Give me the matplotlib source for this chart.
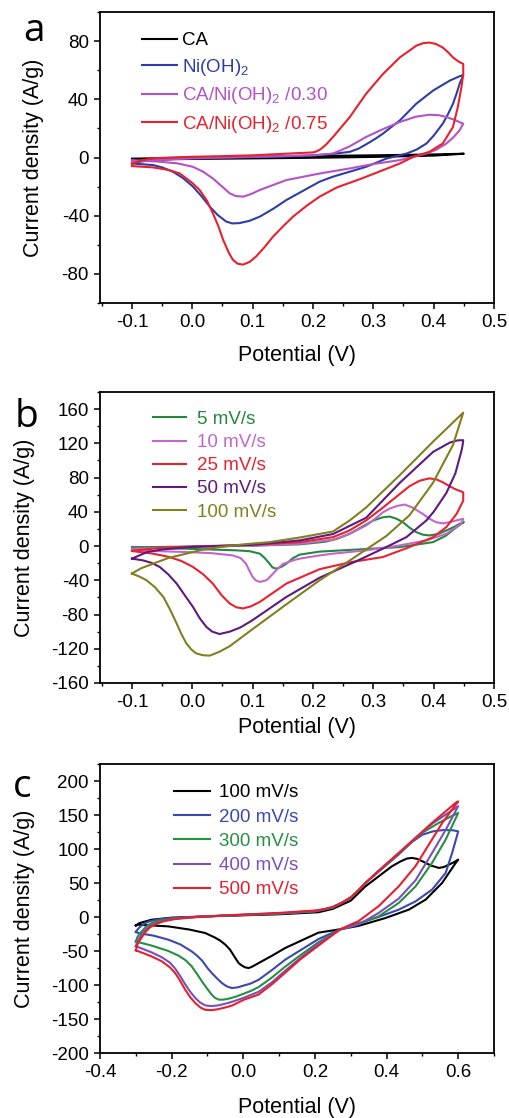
import matplotlib
matplotlib.use("Agg")
import matplotlib.pyplot as plt
from matplotlib.ticker import MultipleLocator, FormatStrFormatter

plt.rcParams["font.family"] = ["Liberation Sans", "DejaVu Sans"]
plt.rcParams["mathtext.fontset"] = "custom"
plt.rcParams["mathtext.rm"] = "Liberation Sans"
plt.rcParams["axes.unicode_minus"] = False

# --- panel a: CV of the four electrodes (one closed loop per sample) ---
a_labels = ["CA", "Ni(OH)$_\\mathregular{2}$",
            "CA/Ni(OH)$_\\mathregular{2}$ /0.30", "CA/Ni(OH)$_\\mathregular{2}$ /0.75"]
a_colors = ["#000000", "#2E3DA8", "#B552C6", "#E8212B"]

a_ca_v = [-0.10, 0.00, 0.10, 0.20, 0.30, 0.40, 0.45, 0.40, 0.30, 0.20, 0.10, 0.00, -0.10]
a_ca_j = [-0.8, 0.0, 0.5, 1.0, 1.5, 2.1, 2.6, 1.3, 0.4, -0.2, -0.6, -1.0, -1.5]

a_ni_v = [-0.100, -0.085, -0.070, -0.030, 0.050, 0.150, 0.206, 0.235, 0.261, 0.275, 0.290, 0.303,
          0.316, 0.330, 0.344, 0.371, 0.399, 0.427, 0.440, 0.449, 0.447, 0.443, 0.438, 0.432,
          0.424, 0.415, 0.400, 0.388, 0.372, 0.355, 0.322, 0.288, 0.233, 0.211, 0.156, 0.135,
          0.112, 0.095, 0.078, 0.066, 0.056, 0.042, 0.029, 0.015, 0.001, -0.015, -0.032, -0.050,
          -0.065, -0.100]
a_ni_j = [-4.0, -2.8, -2.0, -1.0, -0.2, 0.6, 1.6, 2.6, 3.9, 6.0, 9.5, 12.8,
          16.4, 21.0, 25.5, 36.9, 46.0, 52.9, 55.3, 56.8, 54.5, 50.6, 44.0, 36.9,
          30.0, 23.2, 15.0, 9.6, 5.5, 2.7, -0.7, -6.4, -13.2, -16.6, -29.2, -35.0,
          -40.6, -43.5, -45.1, -45.3, -44.0, -39.5, -33.8, -26.5, -20.0, -14.3, -9.8, -6.8,
          -5.2, -4.1]

a_p30_v = [-0.100, -0.050, 0.000, 0.100, 0.200, 0.233, 0.260, 0.288, 0.316, 0.344, 0.370, 0.393,
           0.410, 0.421, 0.435, 0.449, 0.446, 0.443, 0.433, 0.421, 0.405, 0.388, 0.344, 0.300,
           0.261, 0.211, 0.156, 0.112, 0.098, 0.085, 0.072, 0.062, 0.048, 0.034, 0.018, 0.001,
           -0.025, -0.054, -0.100]
a_p30_j = [-3.0, -1.5, -0.5, 0.5, 1.5, 2.7, 7.5, 14.1, 19.5, 24.4, 28.0, 29.4,
           29.0, 27.8, 25.8, 23.2, 21.0, 18.7, 14.0, 9.6, 5.5, 2.7, -1.8, -4.5,
           -7.5, -11.0, -15.5, -22.3, -25.0, -26.9, -26.5, -24.6, -19.5, -14.4, -9.8, -6.4,
           -4.0, -2.9, -1.8]

a_p75_v = [-0.100, -0.085, -0.065, 0.000, 0.045, 0.100, 0.150, 0.200, 0.206, 0.213, 0.222, 0.233,
           0.261, 0.288, 0.316, 0.344, 0.360, 0.371, 0.382, 0.393, 0.404, 0.415, 0.424, 0.432,
           0.441, 0.449, 0.449, 0.446, 0.440, 0.432, 0.415, 0.393, 0.366, 0.344, 0.316, 0.277,
           0.240, 0.211, 0.190, 0.167, 0.150, 0.134, 0.120, 0.106, 0.095, 0.084, 0.075, 0.067,
           0.060, 0.051, 0.043, 0.034, 0.024, 0.012, 0.000, -0.021, -0.040, -0.065, -0.100]
a_p75_j = [-4.5, -2.0, -0.5, 0.5, 0.9, 1.5, 2.5, 3.5, 4.2, 5.8, 9.0, 14.0,
           27.8, 43.8, 57.4, 68.8, 73.5, 76.8, 78.5, 79.0, 78.0, 75.6, 72.3, 68.8,
           66.0, 64.3, 57.0, 48.3, 34.6, 21.0, 9.6, 3.9, 0.4, -4.1, -8.7, -15.0,
           -20.5, -26.9, -33.0, -40.6, -47.5, -54.3, -61.5, -67.9, -71.8, -73.6, -73.0, -70.2,
           -65.0, -56.5, -47.0, -38.3, -29.5, -22.3, -17.5, -10.9, -8.5, -6.8, -5.9]

# --- panel b: CA/Ni(OH)2/0.75 at different scan rates ---
b_labels = ["5 mV/s", "10 mV/s", "25 mV/s", "50 mV/s", "100 mV/s"]
b_colors = ["#23883E", "#C266C9", "#E8222E", "#5E1A7C", "#80801F"]

b5_v = [-0.100, 0.000, 0.100, 0.178, 0.220, 0.240, 0.261, 0.280, 0.300, 0.315, 0.327, 0.338,
        0.349, 0.360, 0.371, 0.382, 0.393, 0.407, 0.421, 0.433, 0.443, 0.450, 0.438, 0.420,
        0.399, 0.344, 0.261, 0.211, 0.178, 0.167, 0.156, 0.147, 0.139, 0.133, 0.128, 0.120,
        0.112, 0.095, 0.073, -0.010, -0.100]
b5_j = [-1.5, -0.5, 0.5, 2.0, 5.0, 8.5, 14.4, 22.0, 29.9, 33.5, 34.5, 32.0,
        27.9, 21.5, 16.3, 13.3, 12.4, 14.0, 18.2, 22.0, 26.0, 28.0, 22.1, 12.0,
        4.6, -1.2, -4.5, -6.5, -10.0, -14.0, -20.6, -24.5, -26.4, -25.0, -20.6, -14.0,
        -8.9, -6.0, -5.0, -3.1, -1.5]

b10_v = [-0.100, 0.000, 0.100, 0.178, 0.233, 0.260, 0.288, 0.303, 0.316, 0.328, 0.340, 0.352,
         0.365, 0.374, 0.382, 0.393, 0.404, 0.415, 0.427, 0.438, 0.449, 0.446, 0.421, 0.388,
         0.344, 0.288, 0.233, 0.211, 0.178, 0.167, 0.150, 0.139, 0.130, 0.123, 0.112, 0.105,
         0.100, 0.094, 0.089, 0.080, 0.067, 0.030, -0.010, -0.100]
b10_j = [-3.0, -1.0, 0.5, 2.7, 7.4, 14.0, 24.0, 32.0, 39.5, 44.0, 47.0, 48.5,
         45.0, 41.0, 37.6, 32.0, 27.9, 26.5, 27.9, 30.0, 31.8, 26.0, 14.4, 6.6,
         0.8, -5.0, -8.9, -10.9, -14.7, -16.7, -21.0, -28.3, -35.0, -39.9, -41.9, -40.0,
         -36.1, -28.0, -20.6, -14.0, -10.9, -8.2, -7.0, -5.0]

b25_v = [-0.100, -0.050, 0.000, 0.100, 0.178, 0.233, 0.260, 0.288, 0.316, 0.344, 0.360, 0.377,
         0.393, 0.405, 0.415, 0.425, 0.435, 0.449, 0.449, 0.438, 0.421, 0.399, 0.360, 0.316,
         0.261, 0.211, 0.156, 0.135, 0.112, 0.097, 0.084, 0.073, 0.062, 0.048, 0.034, 0.018,
         0.001, -0.018, -0.038, -0.065, -0.100]
b25_j = [-5.5, -2.0, -0.5, 1.5, 4.6, 10.4, 18.0, 29.9, 45.0, 60.9, 70.0, 76.4,
         79.1, 77.8, 74.5, 70.5, 66.7, 62.8, 53.0, 37.6, 22.1, 10.4, -1.2, -12.8,
         -19.0, -27.0, -43.8, -54.0, -65.2, -70.5, -72.9, -71.5, -67.1, -57.0, -43.8, -33.0,
         -24.4, -17.5, -12.8, -8.9, -5.8]

b50_v = [-0.100, -0.075, -0.050, 0.000, 0.100, 0.178, 0.233, 0.288, 0.344, 0.399, 0.427, 0.440,
         0.449, 0.448, 0.446, 0.441, 0.436, 0.421, 0.400, 0.388, 0.355, 0.322, 0.277, 0.233,
         0.211, 0.156, 0.100, 0.080, 0.062, 0.045, 0.033, 0.023, 0.012, 0.001, -0.013, -0.026,
         -0.040, -0.054, -0.068, -0.082, -0.100]
b50_j = [-14.7, -7.0, -4.0, -1.0, 1.5, 6.6, 14.0, 33.0, 74.0, 110.0, 121.0, 123.5,
         123.7, 118.0, 111.0, 98.0, 85.0, 62.0, 40.0, 30.0, 10.5, -1.0, -16.0, -30.0,
         -37.0, -59.4, -86.5, -95.0, -100.0, -102.8, -100.0, -94.3, -84.0, -71.0, -57.0, -43.8,
         -33.0, -24.4, -19.5, -16.7, -14.7]

b100_v = [-0.100, -0.085, -0.065, -0.040, -0.010, 0.015, 0.045, 0.085, 0.128, 0.178, 0.233, 0.261,
          0.288, 0.344, 0.399, 0.449, 0.432, 0.399, 0.360, 0.322, 0.288, 0.250, 0.211, 0.156,
          0.100, 0.062, 0.045, 0.029, 0.017, 0.006, -0.002, -0.010, -0.018, -0.026, -0.037,
          -0.048, -0.062, -0.076, -0.088, -0.100]
b100_j = [-32.0, -26.0, -20.6, -14.0, -8.9, -4.5, -1.2, 2.0, 4.6, 10.0, 17.0, 30.0,
          45.0, 83.0, 122.0, 155.9, 118.0, 74.0, 36.0, 12.0, -4.0, -22.0, -40.0, -68.0,
          -97.0, -117.0, -123.5, -128.0, -127.5, -125.3, -120.5, -113.6, -103.0, -90.4, -74.0,
          -59.4, -48.0, -39.9, -35.5, -32.2]

# --- panel c: high scan rates ---
c_labels = ["100 mV/s", "200 mV/s", "300 mV/s", "400 mV/s", "500 mV/s"]
c_colors = ["#000000", "#3A48B0", "#249040", "#7A50B8", "#E5202E"]

c100_v = [-0.300, -0.290, -0.256, -0.200, -0.100, 0.000, 0.100, 0.210, 0.250, 0.300, 0.341, 0.415,
          0.440, 0.457, 0.471, 0.485, 0.500, 0.509, 0.525, 0.546, 0.560, 0.574, 0.588, 0.600,
          0.597, 0.593, 0.555, 0.509, 0.462, 0.397, 0.322, 0.271, 0.210, 0.117, 0.080, 0.043,
          0.025, 0.015, 0.005, -0.005, -0.013, -0.025, -0.037, -0.050, -0.065, -0.080, -0.106,
          -0.150, -0.209, -0.293, -0.300]
c100_j = [-12.5, -9.0, -4.0, -1.0, 1.0, 2.5, 4.0, 7.0, 12.0, 24.0, 45.0, 74.6,
          82.0, 86.0, 86.9, 85.5, 82.0, 79.5, 75.5, 72.2, 73.5, 77.0, 80.5, 84.4,
          82.0, 79.5, 50.0, 25.5, 10.8, -1.5, -13.0, -18.0, -23.0, -45.6, -57.0, -67.7,
          -73.0, -75.1, -74.0, -71.0, -67.7, -58.0, -48.0, -40.7, -34.5, -30.0, -23.6,
          -18.5, -13.8, -11.3, -12.5]

c200_v = [-0.300, -0.293, -0.285, -0.272, -0.260, -0.230, -0.200, -0.100, 0.000, 0.100, 0.200, 0.250,
          0.300, 0.341, 0.434, 0.470, 0.500, 0.530, 0.560, 0.585, 0.600, 0.597, 0.583, 0.565,
          0.527, 0.481, 0.434, 0.369, 0.294, 0.271, 0.210, 0.117, 0.080, 0.043, 0.020, 0.000,
          -0.016, -0.032, -0.046, -0.060, -0.074, -0.088, -0.100, -0.115, -0.130, -0.144, -0.175,
          -0.209, -0.250, -0.293, -0.300]
c200_j = [-22.0, -17.0, -13.0, -8.5, -6.0, -3.0, -1.5, 1.0, 3.0, 5.0, 8.0, 14.0,
          28.0, 50.0, 92.0, 110.0, 121.0, 126.0, 128.0, 127.5, 126.0, 120.0, 94.0, 64.8,
          40.2, 23.0, 10.8, -1.5, -13.8, -18.0, -32.4, -62.8, -78.0, -92.3, -98.0, -101.0,
          -103.5, -104.5, -102.0, -97.0, -90.0, -82.4, -75.0, -64.0, -56.5, -50.6, -40.5,
          -33.4, -27.5, -23.6, -22.0]

c300_v = [-0.300, -0.295, -0.285, -0.272, -0.260, -0.240, -0.220, -0.190, -0.150, -0.100, 0.000, 0.100,
          0.200, 0.250, 0.300, 0.341, 0.434, 0.500, 0.546, 0.580, 0.600, 0.593, 0.565, 0.527,
          0.481, 0.434, 0.378, 0.303, 0.271, 0.210, 0.160, 0.117, 0.080, 0.043, 0.020, 0.000,
          -0.020, -0.040, -0.055, -0.069, -0.080, -0.090, -0.100, -0.115, -0.130, -0.144, -0.160,
          -0.180, -0.209, -0.256, -0.300]
c300_j = [-36.0, -29.0, -22.0, -14.5, -10.0, -6.0, -4.0, -2.0, -0.5, 1.0, 3.0, 5.0,
          8.5, 14.0, 28.0, 50.0, 93.0, 124.0, 138.4, 148.0, 153.0, 145.0, 113.8, 79.5,
          45.0, 20.6, 1.0, -13.8, -18.0, -37.0, -56.0, -73.0, -89.0, -103.0, -109.0, -113.0,
          -117.0, -120.0, -121.5, -121.5, -118.5, -113.0, -106.0, -95.0, -83.0, -72.6, -64.0,
          -57.0, -50.0, -42.0, -36.0]

c400_v = [-0.300, -0.295, -0.285, -0.272, -0.260, -0.240, -0.220, -0.190, -0.150, -0.100, 0.000, 0.100,
          0.200, 0.225, 0.250, 0.275, 0.300, 0.320, 0.341, 0.380, 0.434, 0.527, 0.600, 0.565,
          0.527, 0.481, 0.434, 0.378, 0.322, 0.271, 0.210, 0.160, 0.117, 0.080, 0.043, 0.000,
          -0.030, -0.050, -0.070, -0.090, -0.106, -0.120, -0.134, -0.148, -0.162, -0.176, -0.190,
          -0.205, -0.228, -0.256, -0.280, -0.300]
c400_j = [-43.0, -35.0, -27.0, -18.5, -13.0, -8.5, -5.0, -2.5, -0.5, 1.0, 3.5, 5.5,
          9.0, 11.0, 14.5, 20.5, 29.0, 38.0, 50.0, 69.0, 94.0, 137.0, 163.0, 128.0,
          94.0, 54.0, 27.0, 6.0, -11.0, -18.5, -39.0, -60.0, -79.0, -96.0, -110.0, -119.0,
          -124.5, -127.5, -130.0, -131.0, -130.0, -126.0, -119.0, -110.0, -99.0, -87.0, -76.0,
          -67.0, -59.0, -52.0, -47.0, -43.0]

c500_v = [-0.300, -0.295, -0.285, -0.272, -0.260, -0.240, -0.220, -0.190, -0.150, -0.100, 0.000, 0.100,
          0.200, 0.225, 0.250, 0.275, 0.300, 0.320, 0.341, 0.380, 0.434, 0.527, 0.593, 0.600,
          0.555, 0.527, 0.481, 0.434, 0.378, 0.322, 0.271, 0.210, 0.160, 0.117, 0.080, 0.043,
          0.000, -0.030, -0.050, -0.070, -0.088, -0.106, -0.120, -0.134, -0.148, -0.162, -0.176,
          -0.190, -0.205, -0.228, -0.256, -0.280, -0.300]
c500_j = [-49.0, -40.0, -31.0, -21.5, -15.0, -9.5, -6.0, -3.0, -1.0, 1.0, 3.5, 6.0,
          9.5, 11.5, 15.0, 21.0, 29.0, 38.0, 50.0, 69.0, 94.2, 138.4, 167.9, 170.0,
          138.0, 114.0, 75.0, 45.0, 16.0, -6.0, -18.0, -42.0, -62.0, -82.0, -99.0, -114.0,
          -122.0, -130.0, -133.0, -135.5, -137.0, -136.5, -133.0, -126.6, -118.0, -107.0, -94.0,
          -82.5, -74.0, -65.0, -58.0, -53.0, -49.0]

a_curves = [(a_ca_v, a_ca_j), (a_ni_v, a_ni_j), (a_p30_v, a_p30_j), (a_p75_v, a_p75_j)]
b_curves = [(b5_v, b5_j), (b10_v, b10_j), (b25_v, b25_j), (b50_v, b50_j), (b100_v, b100_j)]
c_curves = [(c100_v, c100_j), (c200_v, c200_j), (c300_v, c300_j), (c400_v, c400_j), (c500_v, c500_j)]

W, H = 510, 1118


def panel(fig, left, top, right, bottom):
    return fig.add_axes([left / W, 1 - bottom / H, (right - left) / W, (bottom - top) / H])


def style(ax, xlim, ylim, xmaj, ymaj, xlab_y, ylab_x):
    ax.set_xlim(*xlim)
    ax.set_ylim(*ylim)
    ax.xaxis.set_major_locator(MultipleLocator(xmaj))
    ax.xaxis.set_minor_locator(MultipleLocator(xmaj / 2))
    ax.yaxis.set_major_locator(MultipleLocator(ymaj))
    ax.yaxis.set_minor_locator(MultipleLocator(ymaj / 2))
    ax.xaxis.set_major_formatter(FormatStrFormatter("%.1f"))
    ax.yaxis.set_major_formatter(FormatStrFormatter("%d"))
    ax.tick_params(which="major", direction="out", length=4, width=1.1, labelsize=13.5, pad=4)
    ax.tick_params(which="minor", direction="out", length=2.5, width=1.0)
    for s in ax.spines.values():
        s.set_linewidth(1.3)
    ax.set_xlabel("Potential (V)", fontsize=15.5)
    ax.set_ylabel("Current density (A/g)", fontsize=15.5)
    ax.xaxis.set_label_coords(0.5, xlab_y)
    ax.yaxis.set_label_coords(ylab_x, 0.5)


def draw(ax, curves, labels, colors, leg_xy, hl, htp, ls):
    for (v, j), lab, col in zip(curves, labels, colors):
        ax.plot(v, j, color=col, lw=1.5, label=lab, solid_joinstyle="round")
    ax.legend(loc="upper left", bbox_to_anchor=leg_xy, frameon=False, fontsize=13.5,
              handlelength=hl, handletextpad=htp, labelspacing=ls, borderpad=0,
              borderaxespad=0, labelcolor="linecolor")


fig = plt.figure(figsize=(W / 100, H / 100), dpi=100)

ax_a = panel(fig, 100, 12, 494, 303)
draw(ax_a, a_curves, a_labels, a_colors, (0.107, 0.93), 1.87, 0.27, 0.4)
style(ax_a, (-0.153, 0.5), (-100, 100), 0.1, 40, -0.145, -0.142)

ax_b = panel(fig, 100, 392, 494, 683)
draw(ax_b, b_curves, b_labels, b_colors, (0.135, 0.935), 1.76, 0.59, 0.32)
style(ax_b, (-0.153, 0.5), (-160, 180), 0.1, 40, -0.117, -0.165)

ax_c = panel(fig, 100, 764, 494, 1053)
draw(ax_c, c_curves, c_labels, c_colors, (0.188, 0.93), 1.92, 0.48, 0.38)
style(ax_c, (-0.4, 0.7), (-200, 225), 0.2, 50, -0.152, -0.165)

for letter, x, base in [("a", 23, 41), ("b", 15, 427), ("c", 13, 797)]:
    fig.text(x / W, 1 - base / H, letter, fontsize=28, family="Open Sans",
             ha="left", va="baseline")

fig.savefig("out.png", dpi=100)
